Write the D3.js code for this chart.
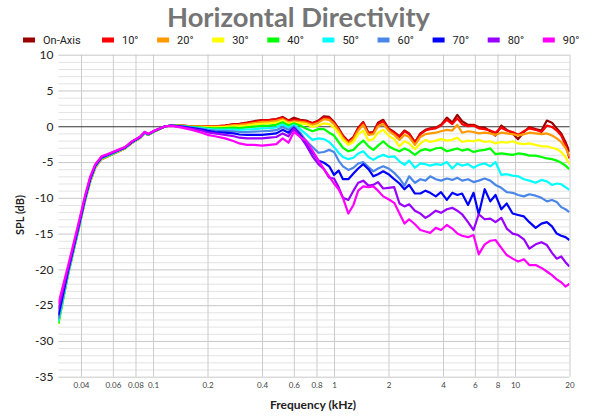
<!DOCTYPE html>
<html><head><meta charset="utf-8">
<script src="https://cdn.jsdelivr.net/npm/d3@7"></script>
<style>body{margin:0;background:#fff}svg{display:block}</style>
</head><body><svg id="c" width="600" height="420"></svg>
<script>
// ---------- DATA ----------
const freqs = [0.03,0.034,0.0387,0.042,0.045,0.048,0.052,0.058,0.064,0.07,0.076,0.085,0.09,0.094,0.103,0.117,0.127,
  0.144,0.164,0.186,
  0.2,0.22,0.25,0.28,0.3,0.33,0.36,0.4,0.44,0.48,0.52,0.56,
  0.6,0.65,0.7,0.76,0.82,0.88,0.94,1.0,1.06,1.12,1.2,1.28,1.36,1.45,1.55,1.65,1.75,1.87,2.0,2.15,2.3,2.45,2.6,2.8,3.0,3.2,3.4,3.65,3.9,4.2,4.5,4.8,5.1,5.5,5.9,6.3,6.8,7.3,7.8,8.4,9.0,9.7,10.4,11.2,12.0,13.0,14.0,15.0,16.0,17.0,18.0,19.0,20.0];

const onAxis = [-27.0,-20.4,-14.3,-10.4,-7.6,-5.7,-4.55,-4.0,-3.5,-3.1,-2.35,-1.6,-0.95,-1.2,-0.65,0.0,0.1,
  0.1,0.0,0.0,
  0.0,0.0,0.1,0.3,0.35,0.5,0.7,0.85,0.9,1.0,1.3,0.8,
  1.2,0.9,0.8,0.45,0.8,1.4,1.3,0.6,-0.3,-1.3,-2.1,-1.5,-0.2,0.6,-0.9,-0.8,0.5,0.9,-0.3,-0.8,-1.4,-0.6,-1.0,-2.2,-1.0,-0.5,-0.3,-0.2,0.2,1.2,0.5,1.6,0.7,0.2,0.2,-0.1,-0.2,-0.7,-1.3,0.1,-0.5,-1.0,-1.8,-0.8,-0.1,-0.4,-0.6,0.8,0.5,-0.3,-1.0,-2.2,-3.6];
const deg10 = [-27.2,-20.5,-14.4,-10.5,-7.7,-5.75,-4.6,-4.05,-3.55,-3.1,-2.35,-1.6,-0.95,-1.2,-0.65,0.0,0.1,
  0.1,0.0,0.0,
  0.0,0.0,0.1,0.25,0.3,0.45,0.6,0.8,0.85,0.95,1.2,0.75,
  0.9,0.8,0.7,0.4,0.7,1.2,1.1,0.5,-0.4,-1.4,-2.2,-1.6,-0.3,0.5,-1.0,-0.9,0.3,0.7,-0.4,-0.9,-1.5,-0.7,-1.1,-2.3,-1.1,-0.6,-0.4,-0.3,0.1,0.9,0.3,1.1,0.3,0.0,0.1,-0.3,-0.4,-0.6,-0.9,-0.2,-0.6,-0.8,-1.2,-0.7,-0.3,-0.5,-0.8,0.1,-0.1,-0.6,-1.3,-2.6,-4.5];
const deg20 = [-27.4,-20.6,-14.5,-10.5,-7.7,-5.75,-4.6,-4.05,-3.55,-3.1,-2.35,-1.6,-0.95,-1.2,-0.65,0.0,0.1,
  0.1,-0.05,-0.05,
  -0.05,-0.05,0.0,0.15,0.2,0.3,0.45,0.6,0.65,0.75,1.0,0.55,
  0.7,0.6,0.5,0.2,0.5,1.0,0.9,0.3,-0.6,-1.6,-2.4,-1.8,-0.6,0.2,-1.2,-1.1,0.0,0.3,-0.6,-1.2,-1.9,-1.2,-1.5,-2.6,-1.5,-1.1,-1.0,-0.9,-0.7,-0.5,-0.6,0.2,-0.9,-0.7,-0.8,-1.0,-0.9,-1.0,-1.2,-0.9,-1.0,-1.1,-1.3,-1.1,-0.9,-1.0,-1.1,-1.0,-1.3,-1.7,-2.2,-3.0,-4.2];
const deg30 = [-27.6,-20.6,-14.5,-10.5,-7.7,-5.7,-4.55,-4.0,-3.5,-3.1,-2.3,-1.6,-0.9,-1.2,-0.65,0.0,0.1,
  0.05,-0.1,-0.1,
  -0.15,-0.15,-0.1,0.0,0.0,0.1,0.25,0.35,0.4,0.5,0.8,0.35,
  0.5,0.4,0.3,-0.1,0.1,0.4,0.3,-0.2,-1.0,-1.9,-2.6,-2.2,-1.1,-0.6,-2.0,-1.8,-0.9,-0.5,-1.3,-1.8,-2.8,-2.1,-2.4,-3.2,-2.4,-1.9,-2.2,-2.0,-1.8,-2.0,-1.9,-1.6,-2.2,-2.0,-2.1,-1.9,-2.2,-2.1,-2.4,-2.2,-2.3,-2.1,-2.4,-2.5,-2.4,-2.6,-2.8,-2.8,-3.0,-3.2,-3.6,-4.3,-5.3];
const deg40 = [-27.6,-20.6,-14.5,-10.4,-7.6,-5.65,-4.5,-4.0,-3.5,-3.05,-2.3,-1.55,-0.9,-1.2,-0.65,0.0,0.1,
  0.05,-0.1,-0.2,
  -0.25,-0.3,-0.25,-0.2,-0.25,-0.15,-0.05,0.05,0.1,0.2,0.55,0.1,
  0.4,0.1,-0.3,-0.7,-0.4,-0.4,-0.9,-1.3,-2.2,-3.0,-3.5,-3.3,-2.6,-2.0,-2.8,-3.3,-2.7,-2.1,-2.8,-3.2,-3.5,-3.1,-3.4,-4.0,-3.4,-3.2,-3.4,-3.1,-3.0,-3.5,-3.3,-3.1,-3.4,-3.2,-3.6,-3.4,-3.3,-3.1,-3.9,-3.8,-3.9,-4.0,-3.8,-3.9,-4.1,-4.1,-4.3,-4.5,-4.6,-4.8,-5.1,-5.5,-6.0];
const deg50 = [-27.3,-20.5,-14.4,-10.4,-7.5,-5.6,-4.45,-3.95,-3.45,-3.05,-2.3,-1.55,-0.9,-1.15,-0.6,0.0,0.1,
  0.0,-0.15,-0.25,
  -0.35,-0.45,-0.45,-0.45,-0.5,-0.45,-0.4,-0.3,-0.25,-0.15,0.25,-0.2,
  0.2,-0.4,-1.1,-1.9,-1.7,-1.8,-2.2,-2.9,-3.7,-4.3,-4.6,-4.4,-3.8,-3.5,-4.3,-4.7,-4.3,-4.0,-4.3,-4.2,-4.9,-5.4,-4.8,-5.8,-5.2,-5.3,-5.5,-5.3,-5.4,-5.0,-5.9,-5.2,-5.5,-5.3,-5.8,-5.4,-5.2,-5.6,-5.0,-6.8,-6.7,-6.9,-7.0,-7.4,-7.6,-7.9,-7.5,-7.7,-8.2,-8.0,-8.1,-8.5,-8.9];
const deg60 = [-26.9,-20.3,-14.3,-10.3,-7.4,-5.55,-4.4,-3.9,-3.4,-3.0,-2.25,-1.5,-0.85,-1.15,-0.6,0.0,0.1,
  0.0,-0.2,-0.35,
  -0.5,-0.6,-0.65,-0.7,-0.8,-0.8,-0.75,-0.7,-0.65,-0.55,-0.1,-0.5,
  0.0,-0.9,-2.0,-2.9,-3.7,-3.6,-3.3,-3.6,-4.8,-5.6,-6.1,-5.8,-5.2,-5.0,-5.7,-6.3,-5.9,-5.6,-5.9,-6.5,-7.3,-8.3,-7.0,-7.9,-7.4,-7.6,-7.0,-7.4,-7.6,-7.3,-7.5,-7.2,-7.6,-7.4,-7.8,-7.6,-7.3,-7.6,-8.2,-8.6,-9.2,-9.3,-9.6,-9.8,-9.5,-9.7,-10.0,-10.5,-10.3,-10.6,-11.3,-11.6,-12.0];
const deg70 = [-26.4,-20.1,-14.1,-10.2,-7.35,-5.5,-4.35,-3.85,-3.4,-3.0,-2.25,-1.5,-0.85,-1.1,-0.6,0.0,0.1,
  -0.05,-0.25,-0.45,
  -0.65,-0.8,-0.9,-1.0,-1.15,-1.2,-1.2,-1.2,-1.1,-1.0,-0.5,-0.9,
  -0.2,-1.2,-2.3,-3.6,-4.8,-5.1,-5.6,-6.8,-6.2,-7.4,-7.4,-6.6,-5.9,-5.3,-6.0,-7.0,-6.7,-6.3,-6.7,-7.4,-8.0,-8.8,-8.2,-9.4,-9.4,-9.0,-9.3,-9.8,-9.2,-10.3,-9.3,-9.6,-9.4,-11.0,-9.3,-12.3,-8.8,-10.5,-9.6,-11.6,-10.8,-12.2,-12.4,-12.6,-13.4,-14.2,-13.6,-13.4,-14.0,-15.0,-15.3,-15.5,-15.9];
const deg80 = [-25.6,-19.8,-13.9,-10.0,-7.2,-5.4,-4.3,-3.8,-3.35,-2.95,-2.2,-1.45,-0.8,-1.1,-0.55,0.0,0.1,
  -0.1,-0.35,-0.6,
  -0.85,-1.0,-1.2,-1.4,-1.6,-1.7,-1.7,-1.7,-1.6,-1.5,-1.0,-1.4,
  -0.3,-1.4,-2.6,-4.2,-5.3,-6.0,-7.2,-7.3,-8.5,-10.0,-10.3,-9.0,-7.9,-7.6,-8.3,-8.2,-7.8,-8.7,-8.6,-8.5,-10.8,-11.2,-10.9,-11.8,-12.2,-12.8,-12.4,-11.8,-12.1,-11.6,-11.4,-11.8,-12.3,-13.4,-14.5,-12.3,-13.0,-12.9,-13.4,-12.8,-14.3,-15.0,-15.2,-15.8,-17.1,-16.5,-16.2,-16.6,-17.7,-18.5,-18.2,-19.0,-19.6];
const deg90 = [-24.8,-19.4,-13.6,-9.8,-7.0,-5.3,-4.2,-3.75,-3.3,-2.9,-2.15,-1.45,-0.8,-1.05,-0.55,0.0,0.05,
  -0.2,-0.5,-0.9,
  -1.2,-1.4,-1.7,-2.1,-2.4,-2.6,-2.6,-2.7,-2.6,-2.5,-1.7,-2.3,
  -0.8,-1.5,-2.0,-3.4,-4.8,-6.0,-7.0,-8.0,-8.8,-10.0,-12.2,-11.0,-9.0,-8.4,-8.5,-8.4,-9.0,-9.8,-10.2,-10.7,-12.2,-13.6,-13.0,-13.7,-14.5,-14.7,-14.9,-14.2,-14.5,-13.8,-14.3,-15.0,-15.3,-15.5,-15.2,-17.9,-16.5,-16.0,-15.9,-17.0,-18.0,-18.5,-18.9,-18.6,-19.4,-19.4,-19.8,-20.3,-20.8,-21.4,-21.8,-22.4,-22.0];

const seriesNames = ["On-Axis","10°","20°","30°","40°","50°","60°","70°","80°","90°"];
const seriesValues = [onAxis,deg10,deg20,deg30,deg40,deg50,deg60,deg70,deg80,deg90];
const seriesColors = ["#990000","#ff0000","#ff9900","#ffff00","#00ff00","#00ffff","#4a86e8","#0000ff","#9900ff","#ff00ff"];

const xTickValues = [0.04,0.06,0.08,0.1,0.2,0.4,0.6,0.8,1,2,4,6,8,10,20];
const xTickLabels = ["0.04","0.06","0.08","0.1","0.2","0.4","0.6","0.8","1","2","4","6","8","10","20"];
const yTickValues = [-35,-30,-25,-20,-15,-10,-5,0,5,10];
const yMinorValues = [-34,-33,-32,-31,-29,-28,-27,-26,-24,-23,-22,-21,-19,-18,-17,-16,-14,-13,-12,-11,-9,-8,-7,-6,-4,-3,-2,-1,1,2,3,4,6,7,8,9];

// ---------- LAYOUT ----------
const svg = d3.select("#c");
const L = 58.4, R = 569.5, T = 54.7, B = 376.7;
const x = d3.scaleLog().domain([0.03, 20]).range([L, R]);
const y = d3.scaleLinear().domain([-35, 10]).range([B, T]);

// minor gridlines
svg.append("g").attr("transform", `translate(${L},0)`)
  .call(d3.axisLeft(y).tickValues(yMinorValues).tickSize(-(R - L)).tickFormat(""))
  .call(g => g.select(".domain").remove())
  .call(g => g.selectAll("line").attr("stroke", "#e3e3e3").attr("stroke-width", 1));

// vertical gridlines
svg.append("g").attr("transform", `translate(0,${B})`)
  .call(d3.axisBottom(x).tickValues(xTickValues).tickSize(-(B - T)).tickFormat(""))
  .call(g => g.select(".domain").remove())
  .call(g => g.selectAll("line").attr("stroke", "#cccccc").attr("stroke-width", 1));

// major horizontal gridlines + labels
svg.append("g").attr("transform", `translate(${L},0)`)
  .call(d3.axisLeft(y).tickValues(yTickValues).tickSize(-(R - L)).tickPadding(6).tickFormat(d => d))
  .call(g => g.select(".domain").remove())
  .call(g => g.selectAll("line").attr("stroke", d => d === 0 ? "#333" : "#c8c8c8").attr("stroke-width", 1))
  .call(g => g.selectAll("text").attr("font-family", "Lato, 'Open Sans', sans-serif").attr("font-size", 12).attr("fill", "#222").attr("x", -5));

// x tick labels
svg.append("g").attr("transform", `translate(0,${B})`)
  .call(d3.axisBottom(x).tickValues(xTickValues).tickSize(0).tickPadding(6).tickFormat((d, i) => xTickLabels[i]))
  .call(g => g.select(".domain").remove())
  .call(g => g.selectAll("text").attr("font-family", "Lato, sans-serif").attr("font-size", 8).attr("fill", "#444"));

// right border line at 20 kHz (gridline already drawn); bring zero line on top later

// clip
svg.append("clipPath").attr("id", "clip").append("rect")
  .attr("x", L).attr("y", T - 2).attr("width", R - L).attr("height", B - T + 2);

const line = d3.line().x(d => x(d[0])).y(d => y(d[1]));
const lg = svg.append("g").attr("clip-path", "url(#clip)");
seriesValues.forEach((vals, i) => {
  lg.append("path")
    .datum(freqs.map((f, k) => [f, vals[k]]))
    .attr("d", line)
    .attr("fill", "none")
    .attr("stroke", seriesColors[i])
    .attr("stroke-width", 2.2)
    .attr("stroke-linejoin", "round");
});

// title
svg.append("text").attr("x", 298.5).attr("y", 27).attr("text-anchor", "middle")
  .attr("font-family", "Lato, sans-serif").attr("font-weight", "bold").attr("font-size", 27)
  .attr("fill", "#757575").attr("textLength", 263).attr("lengthAdjust", "spacingAndGlyphs")
  .text("Horizontal Directivity");

// legend
const leg = svg.append("g");
seriesNames.forEach((n, i) => {
  const lx = i === 0 ? 23 : 102 + (i - 1) * 55.1;
  leg.append("rect").attr("x", lx).attr("y", 37.5).attr("width", 12).attr("height", 5).attr("fill", seriesColors[i]);
  leg.append("text").attr("x", lx + 20).attr("y", 44).attr("font-family", "Roboto, sans-serif")
    .attr("font-size", 11).attr("fill", "#222").text(n);
});

// axis titles
svg.append("text").attr("transform", "translate(24,215) rotate(-90)").attr("text-anchor", "middle")
  .attr("font-family", "Lato, sans-serif").attr("font-weight", "bold").attr("font-size", 11).attr("fill", "#222")
  .text("SPL (dB)");
svg.append("text").attr("x", 313).attr("y", 409).attr("text-anchor", "middle")
  .attr("font-family", "Lato, sans-serif").attr("font-weight", "bold").attr("font-size", 12).attr("fill", "#222")
  .text("Frequency (kHz)");
</script>
</body></html>
